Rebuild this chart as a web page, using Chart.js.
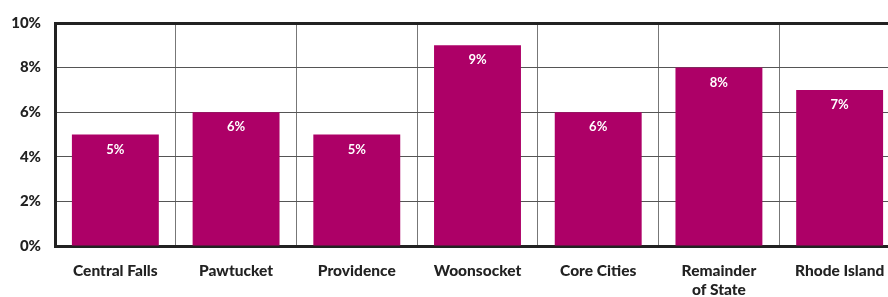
<!DOCTYPE html>
<html>
<head>
<meta charset="utf-8">
<script src="https://cdn.jsdelivr.net/npm/chart.js@4"></script>
<style>
  html, body { margin: 0; padding: 0; background: #fff; overflow: hidden; }
  #wrap { width: 900px; height: 297px; }
</style>
</head>
<body>
<div id="wrap"><canvas id="chart"></canvas></div>
<script>
const categories = ["Central Falls", "Pawtucket", "Providence", "Woonsocket", "Core Cities", ["Remainder", "of State"], "Rhode Island"]
const values = [5, 6, 5, 9, 6, 8, 7]
const yTicks = [0, 2, 4, 6, 8, 10]

const barColor = '#ad0067'
const fontFamily = 'Lato, "DejaVu Sans", sans-serif'

// white labels near the top of each bar
const barLabels = {
    id: 'barLabels',
    afterDatasetsDraw(chart) {
        const ctx = chart.ctx
        const meta = chart.getDatasetMeta(0)
        ctx.save()
        ctx.fillStyle = '#fff'
        ctx.font = 'bold 13px ' + fontFamily
        ctx.textAlign = 'center'
        ctx.textBaseline = 'middle'
        meta.data.forEach((bar, i) => {
            ctx.fillText(values[i] + '%', bar.x, bar.y + 15)
        })
        ctx.restore()
    }
}

new Chart('chart', {
    type: 'bar',
    data: {
        labels: categories,
        datasets: [{
            data: values,
            backgroundColor: barColor,
            categoryPercentage: 1,
            barPercentage: 0.72
        }]
    },
    options: {
        responsive: true,
        maintainAspectRatio: false,
        animation: false,
        layout: { padding: { top: 22, right: 0, left: 0, bottom: 0 } },
        plugins: {
            legend: { display: false },
            tooltip: { enabled: false }
        },
        scales: {
            x: {
                offset: true,
                grid: {
                    offset: true,
                    color: '#777',
                    lineWidth: 1,
                    drawTicks: false
                },
                border: { color: '#222', width: 3 },
                ticks: {
                    color: '#222',
                    padding: 15,
                    maxRotation: 0,
                    autoSkip: false,
                    font: { family: fontFamily, size: 15.5, weight: 900, lineHeight: 1.25 }
                },
                afterFit(scale) { scale.height = 51 }
            },
            y: {
                min: 0,
                max: 10,
                afterBuildTicks(scale) { scale.ticks = yTicks.map(v => ({value: v})) },
                grid: {
                    color: ctx => ctx.tick && ctx.tick.value === 10 ? '#222' : '#555',
                    lineWidth: ctx => ctx.tick && ctx.tick.value === 10 ? 3 : 1,
                    drawTicks: false
                },
                border: { color: '#222', width: 3 },
                ticks: {
                    color: '#222',
                    padding: 14,
                    callback: v => v + '%',
                    font: { family: fontFamily, size: 15, weight: 900 }
                },
                afterFit(scale) { scale.width = 55 }
            }
        }
    },
    plugins: [barLabels]
})
</script>
</body>
</html>
